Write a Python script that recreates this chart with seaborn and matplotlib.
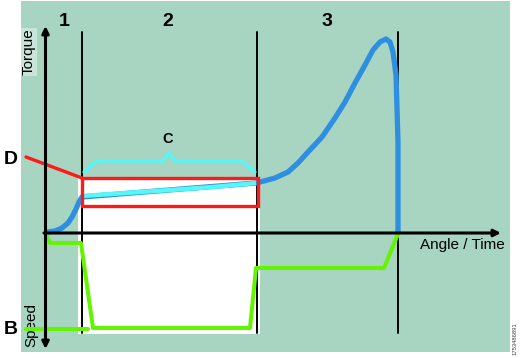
import matplotlib
matplotlib.use("Agg")
import matplotlib.pyplot as plt
import matplotlib.patches as mpatches
import seaborn as sns

# ---- data (diagram coordinates: x = angle/time, y = screen units, top = 0) ----
torque_x = [47, 55, 62, 68, 72, 76, 79, 82, 256, 262, 275, 288, 298, 308, 322, 335, 345, 355,
            365, 373, 380, 386, 390, 393, 396, 397, 398, 398, 398]
torque_y = [232, 231, 228, 223, 217, 209, 202, 197, 183, 181.5, 178, 172, 163, 152, 137, 118, 102, 83,
            65, 50, 42, 39, 42, 52, 75, 108, 142, 195, 233]

plateau_x = [82, 126, 170, 213, 256]
plateau_y = [196, 193, 190, 187, 183]

speed_x = [46, 50, 81, 93, 250, 256, 384, 398]
speed_y = [235, 243, 243, 328, 328, 268, 268, 234]

brace_x = [84, 97, 163, 169, 175, 242, 255]
brace_y = [172, 161, 161, 153, 161, 161, 172]

pointer_d_x = [26, 82]
pointer_d_y = [157, 178]
pointer_b_x = [26, 88]
pointer_b_y = [329, 329]

zone_bounds = [82, 257, 398]
zone_labels = ["1", "2", "3"]
zone_label_x = [64, 168, 327]

window_x = [82, 258]      # red rectangle (phase 2 torque window)
window_y = [178, 206]

BG = "#a8d4c2"
BLUE = "#2e8fe0"
CYAN = "#55f7f7"
RED = "#ff1a1a"
GREEN = "#62f400"

sns.set_theme(style="white")
plt.rcParams["font.family"] = ["Liberation Sans", "DejaVu Sans"]

fig = plt.figure(figsize=(5.21, 3.58), dpi=100)
fig.patch.set_facecolor("white")
ax = fig.add_axes([0, 0, 1, 1])
ax.set_xlim(0, 521)
ax.set_ylim(358, 0)
ax.axis("off")

# background panels
ax.add_patch(mpatches.Rectangle((21, 1), 489, 351, facecolor=BG, edgecolor="none", zorder=0))
ax.add_patch(mpatches.Rectangle((78, 177), 182, 157, facecolor="white", edgecolor="none", zorder=1))

# zone boundaries
for xb in zone_bounds:
    ax.plot([xb, xb], [32, 333], color="black", lw=1.4, zorder=2)
for lab, xl in zip(zone_labels, zone_label_x):
    ax.text(xl, 21, lab, ha="center", va="center", fontsize=14, fontweight="bold", color="black")

# torque curve
sns.lineplot(x=torque_x, y=torque_y, sort=False, estimator=None, color=BLUE, lw=3.8,
             ax=ax, zorder=3, solid_capstyle="round", solid_joinstyle="round")
sns.lineplot(x=plateau_x, y=plateau_y, sort=False, estimator=None, color=CYAN, lw=3.2,
             ax=ax, zorder=4, solid_capstyle="butt")

# brace C
sns.lineplot(x=brace_x, y=brace_y, sort=False, estimator=None, color=CYAN, lw=2.4,
             ax=ax, zorder=4, solid_joinstyle="miter")
ax.text(168, 139, "C", ha="center", va="center", fontsize=10.5, fontweight="bold", color="black")

# red window
ax.add_patch(mpatches.Rectangle((window_x[0], window_y[0]), window_x[1] - window_x[0],
                                window_y[1] - window_y[0], facecolor="none",
                                edgecolor=RED, lw=2.4, zorder=5))
sns.lineplot(x=pointer_d_x, y=pointer_d_y, sort=False, estimator=None, color=RED, lw=2.4,
             ax=ax, zorder=5)
ax.text(10.5, 159, "D", ha="center", va="center", fontsize=14, fontweight="bold", color="black")

# speed curve
sns.lineplot(x=speed_x, y=speed_y, sort=False, estimator=None, color=GREEN, lw=2.9,
             ax=ax, zorder=6)
sns.lineplot(x=pointer_b_x, y=pointer_b_y, sort=False, estimator=None, color=GREEN, lw=2.9,
             ax=ax, zorder=6)
ax.text(10.5, 330, "B", ha="center", va="center", fontsize=14, fontweight="bold", color="black")

# axes arrows
arrow_kw = dict(arrowstyle="-|>", color="black", lw=2.2, mutation_scale=10, shrinkA=0, shrinkB=0)
ax.annotate("", xy=(45.5, 26), xytext=(45.5, 233), arrowprops=arrow_kw, zorder=7)
ax.annotate("", xy=(45.5, 349), xytext=(45.5, 232), arrowprops=arrow_kw, zorder=7)
ax.annotate("", xy=(501, 233), xytext=(44, 233), arrowprops=arrow_kw, zorder=7)

ax.text(29, 52, "Torque", rotation=90, ha="center", va="center", fontsize=11, color="black",
        bbox=dict(facecolor="#c9e4d8", edgecolor="none", pad=0.5))
ax.text(31, 325, "Speed", rotation=90, ha="center", va="center", fontsize=11, color="black")
ax.text(462, 245, "Angle / Time", ha="center", va="center", fontsize=11, color="black")
ax.text(515.5, 339, "1753486891", rotation=90, ha="center", va="center", fontsize=4.2,
        color="#444444")

fig.savefig("out.png", dpi=100, facecolor="white")
